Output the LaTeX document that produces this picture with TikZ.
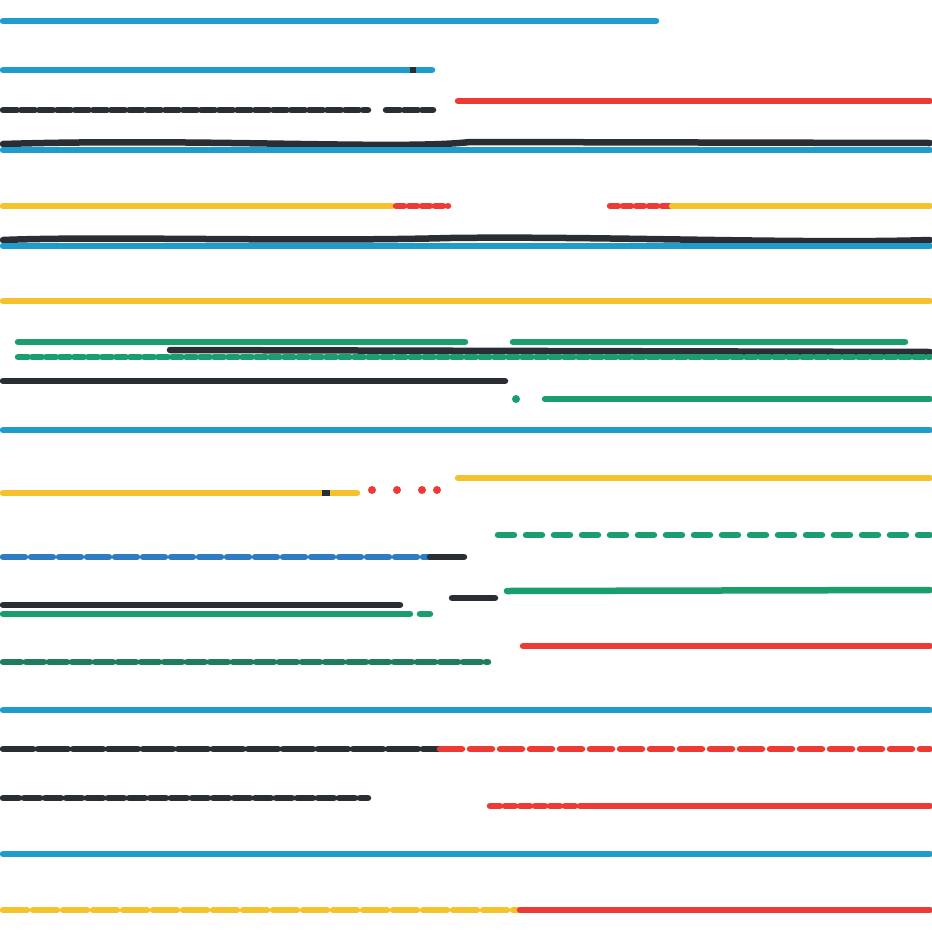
\documentclass[tikz,border=0pt]{standalone}
\usepackage{tikz}
\definecolor{lblue}{HTML}{1E9CCC}
\definecolor{dblue}{HTML}{2E7CBF}
\definecolor{lred}{HTML}{EE3A35}
\definecolor{lyellow}{HTML}{F5C22B}
\definecolor{lgreen}{HTML}{1A9E6E}
\definecolor{ldark}{HTML}{2A2D33}
\begin{document}
\begin{tikzpicture}[x=1pt,y=-1pt,line cap=round,
	lane/.style={line width=6.5pt},
	dashlane/.style={line width=6.5pt,dash pattern=on 14pt off 4pt}]
		\useasboundingbox (0,0) rectangle (932,932);
		% row by row, top to bottom
		\draw[lane,lblue] (3,21) -- (656,21);
		\draw[lane,lblue] (3,70) -- (432,70);
		\draw[lane,ldark,line cap=butt] (410,70) -- (416,70);
		\draw[dashlane,ldark] (3,110) -- (368,110);
		\draw[dashlane,ldark] (386,110) -- (433,110);
		\draw[lane,lred] (458,101) -- (930,101);
		\draw[lane,ldark] (3,144) .. controls (200,138) and (400,150) .. (470,142) -- (930,143);
		\draw[lane,lblue] (3,150) -- (930,150);
		\draw[lane,lyellow] (3,206) -- (392,206);
		\draw[dashlane,lred,dash pattern=on 8pt off 5pt] (396,206) -- (448,206);
		\draw[dashlane,lred,dash pattern=on 8pt off 5pt] (610,206) -- (670,206);
		\draw[lane,lyellow] (672,206) -- (930,206);
		\draw[lane,ldark] (3,240) .. controls (100,236) and (300,242) .. (450,238) .. controls (600,236) and (800,244) .. (930,240);
		\draw[lane,lblue] (3,246) -- (930,246);
		\draw[lane,lyellow] (3,301) -- (930,301);
		\draw[lane,lgreen] (18,342) -- (465,342);
		\draw[lane,lgreen] (513,342) -- (905,342);
		\draw[lane,ldark] (170,350) -- (930,352);
		\draw[dashlane,lgreen,dash pattern=on 10pt off 4pt] (18,357) -- (930,357);
		\draw[lane,ldark] (3,381) -- (505,381);
		\draw[lane,lgreen] (545,399) -- (930,399);
		\fill[lgreen] (516,399) circle (4);
		\draw[lane,lblue] (3,430) -- (930,430);
		\draw[lane,lyellow] (3,493) -- (357,493);
		\draw[lane,ldark,line cap=butt] (322,493) -- (330,493);
		\foreach \px in {372,397,422,437}
			\fill[lred] (\px,490) circle (4);
		\draw[lane,lyellow] (458,478) -- (930,478);
		\draw[dashlane,lgreen,dash pattern=on 16pt off 12pt] (498,535) -- (930,535);
		\draw[dashlane,dblue,dash pattern=on 22pt off 6pt] (3,557) -- (430,557);
		\draw[lane,ldark] (430,557) -- (464,557);
		\draw[lane,ldark] (3,605) -- (400,605);
		\draw[lane,lgreen] (3,614) -- (410,614);
		\draw[lane,lgreen] (420,614) -- (430,614);
		\draw[lane,ldark] (452,598) -- (495,598);
		\draw[lane,lgreen] (507,591) -- (930,590);
		\draw[dashlane,lgreen!70!ldark,dash pattern=on 18pt off 5pt] (3,662) -- (488,662);
		\draw[lane,lred] (523,646) -- (930,646);
		\draw[lane,lblue] (3,710) -- (930,710);
		\draw[dashlane,ldark,dash pattern=on 30pt off 5pt] (3,749) -- (440,749);
		\draw[dashlane,lred,dash pattern=on 22pt off 8pt] (440,749) -- (930,749);
		\draw[dashlane,ldark,dash pattern=on 16pt off 5pt] (3,798) -- (368,798);
		\draw[dashlane,lred,dash pattern=on 10pt off 5pt] (490,806) -- (585,806);
		\draw[lane,lred] (585,806) -- (930,806);
		\draw[lane,lblue] (3,854) -- (930,854);
		\draw[dashlane,lyellow,dash pattern=on 24pt off 6pt] (3,910) -- (520,910);
		\draw[lane,lred] (520,910) -- (930,910);
	\end{tikzpicture}
\end{document}
